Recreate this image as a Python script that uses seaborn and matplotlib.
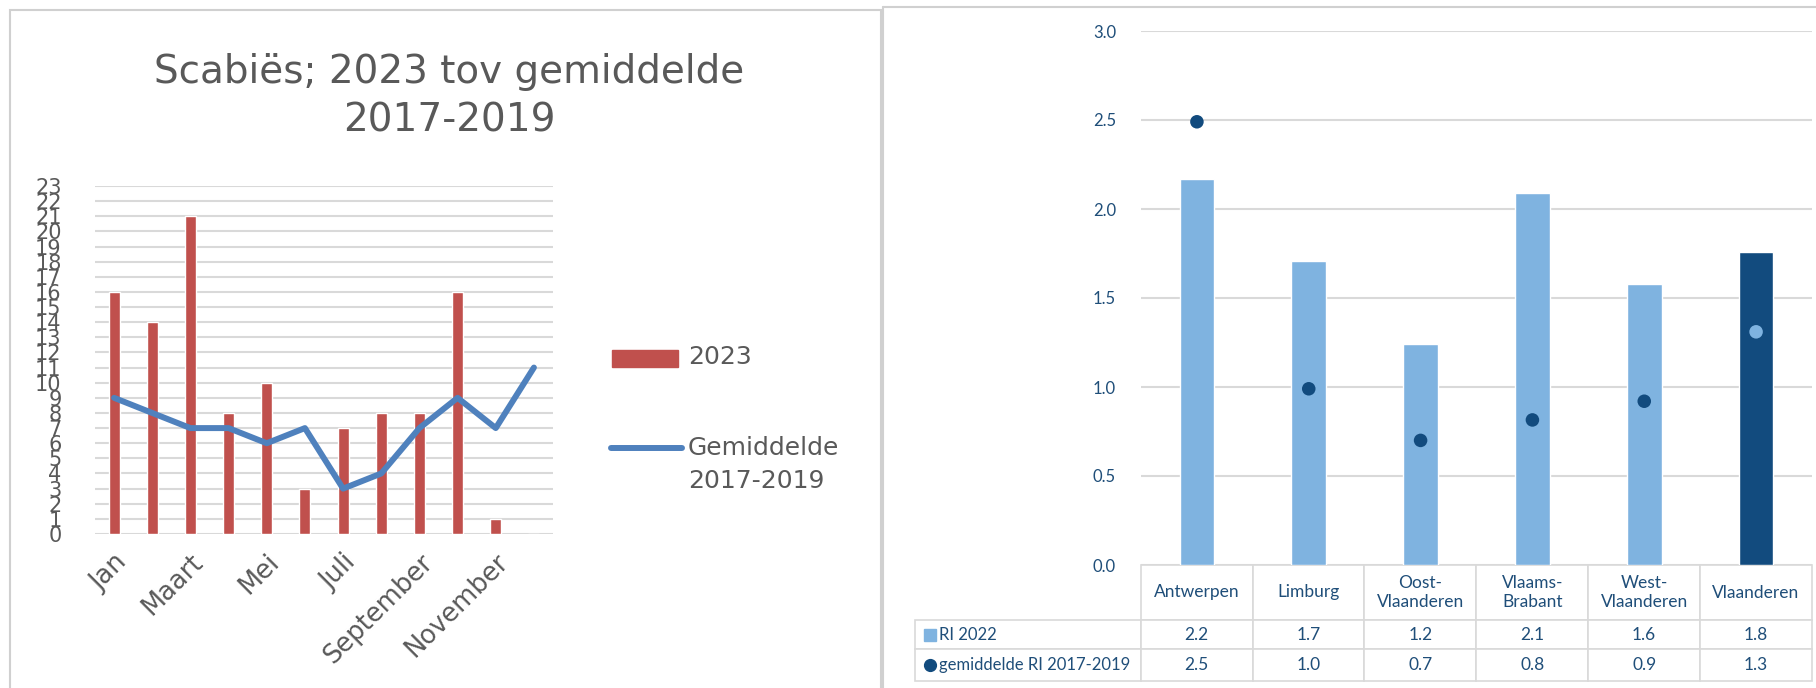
import numpy as np
import pandas as pd
import matplotlib
matplotlib.use("Agg")
import matplotlib.pyplot as plt
import seaborn as sns
from matplotlib.patches import Rectangle
from matplotlib.lines import Line2D

# ---------------- data ----------------
months = ["Jan", "Feb", "Maart", "April", "Mei", "Juni", "Juli", "Augustus",
          "September", "Oktober", "November", "December"]
cases_2023 = [16, 14, 21, 8, 10, 3, 7, 8, 8, 16, 1, 0]
avg_2017_2019 = [9, 8, 7, 7, 6, 7, 3, 4, 7, 9, 7, 11]

regions = ["Antwerpen", "Limburg", "Oost-Vlaanderen", "Vlaams-Brabant",
           "West-Vlaanderen", "Vlaanderen"]
region_labels = ["Antwerpen", "Limburg", "Oost-\nVlaanderen", "Vlaams-\nBrabant",
                 "West-\nVlaanderen", "Vlaanderen"]
series_labels = ["RI 2022", "gemiddelde RI 2017-2019"]
ri_2022 = [2.17, 1.71, 1.24, 2.09, 1.58, 1.76]
ri_avg = [2.49, 0.99, 0.70, 0.815, 0.92, 1.31]

sns.set_theme(style="white")
plt.rcParams["font.family"] = ["DejaVu Sans"]
RFONT = ["Lato", "DejaVu Sans"]

W, H = 1816, 688
fig = plt.figure(figsize=(W / 100, H / 100), dpi=100)

def px_axes(x0, y0, x1, y1):
    return fig.add_axes([x0 / W, (H - y1) / H, (x1 - x0) / W, (y1 - y0) / H])

GRAY = "#595959"
GRID = "#D9D9D9"
RED = "#C0504D"
BLUE = "#4F81BD"

# ---------------- left chart ----------------
ax1 = px_axes(95, 186, 553, 534)
df1 = pd.DataFrame({"maand": months, "aantal": cases_2023, "gem": avg_2017_2019})
sns.barplot(data=df1, x="maand", y="aantal", color=RED, width=0.29,
            saturation=1, ax=ax1, order=months)
sns.lineplot(x=np.arange(len(months)), y=df1["gem"], color=BLUE, lw=4.3,
             ax=ax1, solid_capstyle="round", solid_joinstyle="round")
ax1.set_xlim(-0.5, len(months) - 0.5)
ax1.set_ylim(0, 23)
ax1.set_yticks(range(0, 24))
ax1.set_yticklabels([str(v) for v in range(0, 24)], fontsize=15, color=GRAY)
ax1.set_xticks(range(0, 12, 2))
ax1.set_xticklabels(months[::2], rotation=45, ha="right", rotation_mode="anchor",
                    fontsize=18.5, color=GRAY)
ax1.tick_params(axis="both", length=0)
ax1.tick_params(axis="x", pad=11)
ax1.tick_params(axis="y", pad=24)
ax1.yaxis.grid(True, color=GRID, lw=1.5)
ax1.set_axisbelow(True)
for s in ax1.spines.values():
    s.set_visible(False)
ax1.set_xlabel("")
ax1.set_ylabel("")

fig.text(449 / W, 1 - 96 / H, "Scabiës; 2023 tov gemiddelde\n2017-2019",
         ha="center", va="center", fontsize=28, color=GRAY, linespacing=1.35)

# manual legend (left chart)
fig.add_artist(Rectangle((612 / W, 1 - 367 / H), 66 / W, 17 / H,
                         transform=fig.transFigure, color=RED))
fig.text(688 / W, 1 - 357 / H, "2023", fontsize=18, color=GRAY, va="center")
fig.add_artist(Line2D([611 / W, 682 / W], [1 - 448 / H, 1 - 448 / H],
                      transform=fig.transFigure, color=BLUE, lw=4.3,
                      solid_capstyle="round"))
fig.text(688 / W, 1 - 448 / H, "Gemiddelde", fontsize=18, color=GRAY, va="center")
fig.text(688 / W, 1 - 481 / H, "2017-2019", fontsize=18, color=GRAY, va="center")

# panel borders
fig.add_artist(Rectangle((10 / W, -0.05), 871 / W, 1.05 - 10 / H,
                         transform=fig.transFigure, fill=False,
                         edgecolor="#D0D0D0", lw=1.5))
fig.add_artist(Line2D([883 / W, 1.0], [1 - 7 / H, 1 - 7 / H],
                      transform=fig.transFigure, color="#D0D0D0", lw=1.5))
fig.add_artist(Line2D([883 / W, 883 / W], [0, 1 - 7 / H],
                      transform=fig.transFigure, color="#D0D0D0", lw=1.5))

# ---------------- right chart ----------------
LB = "#7FB3E0"
DB = "#124B7E"
TXT = "#1F4E79"
ax2 = px_axes(1141, 31, 1812, 565)
df2 = pd.DataFrame({"regio": regions, "ri": ri_2022, "gem": ri_avg})
bar_cols = [LB] * 5 + [DB]
dot_cols = [DB] * 5 + [LB]
sns.barplot(data=df2, x="regio", y="ri", hue="regio", palette=bar_cols,
            width=0.31, saturation=1, legend=False, ax=ax2, order=regions)
sns.scatterplot(x=np.arange(len(regions)), y=df2["gem"], hue=df2["regio"],
                palette=dot_cols, s=95, legend=False, ax=ax2, linewidth=0,
                zorder=5)
ax2.set_xlim(-0.5, len(regions) - 0.5)
ax2.set_ylim(0, 3.0)
ax2.set_yticks(np.arange(0, 3.01, 0.5))
ax2.set_yticklabels([f"{v:.1f}" for v in np.arange(0, 3.01, 0.5)],
                    fontsize=12, color=TXT, family=RFONT)
ax2.set_xticks([])
ax2.tick_params(axis="both", length=0)
ax2.tick_params(axis="y", pad=18)
ax2.yaxis.grid(True, color=GRID, lw=1.5)
ax2.set_axisbelow(True)
for s in ax2.spines.values():
    s.set_visible(False)
ax2.set_xlabel("")
ax2.set_ylabel("")

# data table under the chart (Excel style)
cell_text = [[series_labels[0]] + [f"{v:.1f}" for v in ri_2022],
             [series_labels[1]] + [f"{v:.1f}" for v in ri_avg]]
x0_px, x1_px, ybot_px = 915, 1812, 681
ax_w, ax_h = 671, 534
tbl = ax2.table(cellText=cell_text, colLabels=[""] + region_labels,
                cellLoc="center", colLoc="center",
                bbox=[(x0_px - 1141) / ax_w, (565 - ybot_px) / ax_h,
                      (x1_px - x0_px) / ax_w, (ybot_px - 565) / ax_h])
tbl.auto_set_font_size(False)
tbl.set_fontsize(12.5)
row_h = {0: 55, 1: 29, 2: 32}
for (r, c), cell in tbl.get_celld().items():
    cell.set_edgecolor(GRID)
    cell.set_linewidth(1.2)
    cell.set_width(226 if c == 0 else 112)
    cell.set_height(row_h[r])
    cell.get_text().set_color(TXT)
    cell.get_text().set_family(RFONT)
    if c == 0:
        cell._loc = "left"
        cell.get_text().set_horizontalalignment("left")
        cell.get_text().set_fontsize(12)
        cell.PAD = 0.105
        if r == 0:
            cell.visible_edges = ""

# legend keys in table row labels
ax2.plot([(929.5 - 1141) / ax_w], [(565 - 634.5) / ax_h], marker="s", ms=8,
         color=LB, transform=ax2.transAxes, clip_on=False, ls="none")
ax2.plot([(929.5 - 1141) / ax_w], [(565 - 665) / ax_h], marker="o", ms=8.5,
         color=DB, transform=ax2.transAxes, clip_on=False, ls="none")

fig.savefig("out.png", dpi=100)
